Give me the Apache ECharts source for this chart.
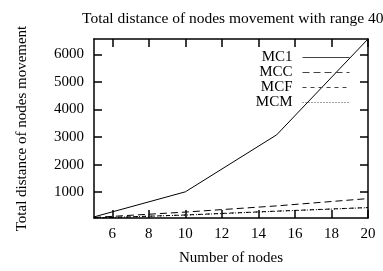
<!DOCTYPE html>
<html>
<head>
<meta charset="utf-8">
<script src="https://cdn.jsdelivr.net/npm/echarts@6/dist/echarts.min.js"></script>
<style>
  html, body { margin: 0; padding: 0; background: #fff; }
  #main { width: 383px; height: 271px; }
</style>
</head>
<body>
<div id="main"></div>
<script>
// data
var nodes = [5, 10, 15, 20];
var mc1 = [100, 1010, 3080, 6560];
var mcc = [80, 275, 500, 765];
var mcf = [60, 170, 310, 440];
var mcm = [60, 165, 305, 435];
var xTicks = [6, 8, 10, 12, 14, 16, 18, 20];
var yTicks = [1000, 2000, 3000, 4000, 5000, 6000];

function pairs(ys) {
    return nodes.map(function (x, i) { return [x, ys[i]]; });
}

var font = 'Liberation Serif';
var black = '#000';

function mkSeries(name, ys, type) {
    return {
        name: name,
        type: 'line',
        data: pairs(ys),
        symbol: 'none',
        silent: true,
        lineStyle: { color: black, width: 1, type: type },
        itemStyle: { color: black }
    };
}

var myChart = echarts.init(document.getElementById('main'));

var option = {
    animation: false,
    title: {
        text: 'Total distance of nodes movement with range 40',
        left: 77,
        top: 6,
        textStyle: { fontFamily: font, fontWeight: 'normal', fontSize: 15.5, color: black }
    },
    grid: { left: 94, right: 15, top: 39, bottom: 47 },
    legend: {
        orient: 'vertical',
        align: 'right',
        right: 33,
        top: 50,
        padding: 0,
        itemWidth: 47,
        itemHeight: 10,
        itemGap: 0,
        data: ['MC1', 'MCC', 'MCF', 'MCM'],
        itemStyle: { opacity: 0 },
        lineStyle: { width: 1, color: '#444' },
        textStyle: { fontFamily: font, fontSize: 15, lineHeight: 10, color: black, padding: [0, 5, 0, 0] }
    },
    xAxis: [{
        type: 'value',
        min: 5,
        max: 20,
        name: 'Number of nodes',
        nameLocation: 'middle',
        nameGap: 33,
        nameTextStyle: { fontFamily: font, fontSize: 15, color: black },
        axisLine: { onZero: false, lineStyle: { color: black, width: 1.5 } },
        axisTick: { inside: true, length: 8, lineStyle: { color: black, width: 1.5 }, customValues: xTicks },
        axisLabel: { fontFamily: font, fontSize: 15, color: black, margin: 9, customValues: xTicks },
        splitLine: { show: false }
    }, {
        type: 'value',
        position: 'top',
        min: 5,
        max: 20,
        axisLine: { onZero: false, lineStyle: { color: black, width: 1.5 } },
        axisTick: { inside: true, length: 8, lineStyle: { color: black, width: 1.5 }, customValues: xTicks },
        axisLabel: { show: false },
        splitLine: { show: false }
    }],
    yAxis: [{
        type: 'value',
        min: 60,
        max: 6560,
        name: 'Total distance of nodes movement',
        nameLocation: 'middle',
        nameGap: 64,
        nameTextStyle: { fontFamily: font, fontSize: 15, color: black },
        axisLine: { onZero: false, lineStyle: { color: black, width: 1.5 } },
        axisTick: { inside: true, length: 8, lineStyle: { color: black, width: 1.5 }, customValues: yTicks },
        axisLabel: {
            fontFamily: font, fontSize: 15, color: black, margin: 10, customValues: yTicks,
            formatter: function (v) { return String(v); }
        },
        splitLine: { show: false }
    }, {
        type: 'value',
        position: 'right',
        min: 60,
        max: 6560,
        axisLine: { onZero: false, lineStyle: { color: black, width: 1.5 } },
        axisTick: { inside: true, length: 8, lineStyle: { color: black, width: 1.5 }, customValues: yTicks },
        axisLabel: { show: false },
        splitLine: { show: false }
    }],
    series: [
        mkSeries('MC1', mc1, 'solid'),
        mkSeries('MCC', mcc, [7, 4]),
        mkSeries('MCF', mcf, [4, 4]),
        mkSeries('MCM', mcm, [1, 2])
    ]
};

myChart.setOption(option);
</script>
</body>
</html>
